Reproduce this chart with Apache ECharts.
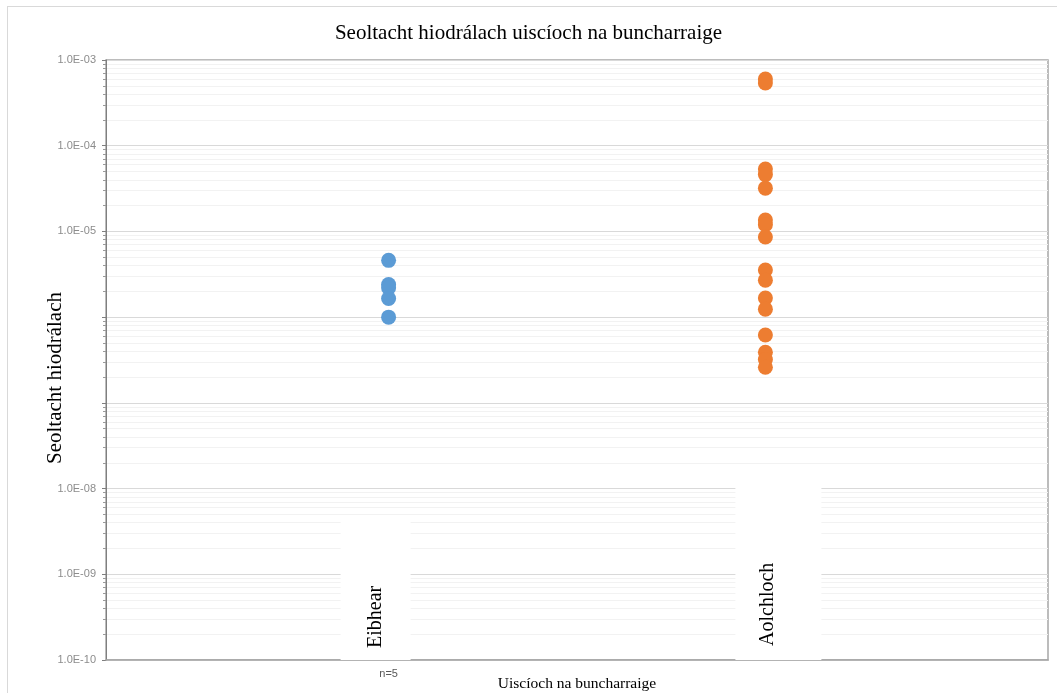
<!DOCTYPE html>
<html>
<head>
<meta charset="utf-8">
<script src="https://cdn.jsdelivr.net/npm/echarts@6/dist/echarts.min.js"></script>
<style>
  body { margin: 0; overflow: hidden; background: #fff; }
  #chart { width: 1057px; height: 693px; }
  .frame {
    position: absolute; left: 7px; top: 6px; width: 1100px; height: 800px;
    border: 1px solid #d9d9d9; pointer-events: none;
  }
</style>
</head>
<body>
<div id="chart"></div>
<div class="frame"></div>
<script>
// categories and their place on the x scale
const categories = ['Eibhear', 'Aolchloch']
const categoryX = [3, 7]
const countLabels = ['n=5', '']

// hydraulic conductivity
const eibhearValues = [4.6e-6, 2.4e-6, 2.2e-6, 1.65e-6, 1.0e-6]
const aolchlochValues = [6.0e-4, 5.4e-4, 5.35e-5, 4.6e-5, 3.2e-5, 1.36e-5, 1.2e-5, 8.6e-6,
  3.55e-6, 2.7e-6, 1.67e-6, 1.24e-6, 6.2e-7, 3.9e-7, 3.2e-7, 2.6e-7]

// y tick labels (E-06 and E-07 are not shown in the original)
const decades = [-10, -9, -8, -7, -6, -5, -4, -3]
const hiddenDecades = [-6, -7]
const mantissas = [2, 3, 4, 5, 6, 7, 8, 9]

const minorValues = []
decades.slice(0, -1).forEach(d => {
  mantissas.forEach(m => minorValues.push(m * Math.pow(10, d)))
})

const serif = 'Liberation Serif'

const chartObj = echarts.init(document.getElementById('chart'))

const option = {
  animation: false,
  title: {
    text: 'Seoltacht hiodrálach uiscíoch na buncharraige',
    left: 'center',
    top: 18,
    textStyle: { fontFamily: serif, fontSize: 21, fontWeight: 'normal', color: '#000' }
  },
  grid: {
    left: 106, right: 9, top: 60, bottom: 33,
    outerBoundsMode: 'none',
    show: true, borderColor: '#a6a6a6', borderWidth: 1.5
  },
  xAxis: [
    {
      type: 'value',
      min: 0,
      max: 10,
      z: 5,
      name: 'Uiscíoch na buncharraige',
      nameLocation: 'middle',
      nameGap: 16,
      nameMoveOverlap: false,
      nameTextStyle: { fontFamily: serif, fontSize: 15.5, color: '#000' },
      axisLine: { show: true, lineStyle: { color: '#a6a6a6', width: 1.5 } },
      axisTick: { show: false },
      splitLine: { show: false },
      axisLabel: {
        inside: true,
        rotate: 90,
        margin: 0,
        customValues: categoryX,
        formatter: function (v) {
          const i = categoryX.indexOf(v)
          // the white label boxes sit a little off the point columns, as in the original
          return i === 0
            ? '{a|' + categories[0] + '}\n{g| }'
            : '{g| }\n{b|' + categories[1] + '}'
        },
        rich: {
          a: {
            fontFamily: serif, fontSize: 20, color: '#000',
            backgroundColor: '#fff', padding: [25, 68, 25, 12]
          },
          b: {
            fontFamily: serif, fontSize: 20, color: '#000',
            backgroundColor: '#fff', padding: [22, 76, 44, 14]
          },
          g: { fontSize: 1, lineHeight: 26 }
        }
      }
    },
    {
      type: 'value',
      min: 0,
      max: 10,
      position: 'bottom',
      axisLine: { show: false },
      axisTick: { show: false },
      splitLine: { show: false },
      axisLabel: {
        margin: 8,
        customValues: categoryX,
        formatter: function (v) { return countLabels[categoryX.indexOf(v)] || '' },
        color: '#595959',
        fontFamily: 'Liberation Sans',
        fontSize: 11
      }
    }
  ],
  yAxis: [
    {
      type: 'log',
      logBase: 10,
      min: 1e-10,
      max: 1e-3,
      name: 'Seoltacht hiodrálach',
      nameLocation: 'middle',
      nameGap: 40,
      nameMoveOverlap: false,
      nameTextStyle: { fontFamily: serif, fontSize: 21, color: '#000', padding: [0, 36, 0, 0] },
      axisLine: { show: true, lineStyle: { color: '#7f7f7f' } },
      axisTick: { show: true, length: 4, lineStyle: { color: '#7f7f7f' } },
      splitLine: { show: true, lineStyle: { color: '#d9d9d9' } },
      axisLabel: {
        margin: 10,
        color: '#8c8c8c',
        fontFamily: 'Liberation Sans',
        fontSize: 11,
        formatter: function (v) {
          const d = Math.round(Math.log10(v))
          if (hiddenDecades.indexOf(d) >= 0) return ''
          return '1.0E-' + String(-d).padStart(2, '0')
        }
      }
    },
    {
      type: 'log',
      logBase: 10,
      min: 1e-10,
      max: 1e-3,
      position: 'left',
      axisLine: { show: false },
      axisLabel: { show: false },
      splitLine: { show: true, lineStyle: { color: '#f2f2f2' } },
      axisTick: {
        show: true, length: 3, customValues: minorValues,
        lineStyle: { color: '#9a9a9a' }
      }
    }
  ],
  series: [
    {
      name: categories[0],
      type: 'scatter',
      symbolSize: 15,
      itemStyle: { color: '#5b9bd5', opacity: 1 },
      data: eibhearValues.map(v => [categoryX[0], v]),
      z: 3
    },
    {
      name: categories[1],
      type: 'scatter',
      symbolSize: 15,
      itemStyle: { color: '#ed7d31', opacity: 1 },
      data: aolchlochValues.map(v => [categoryX[1], v]),
      z: 3
    }
  ]
}

chartObj.setOption(option)
</script>
</body>
</html>
